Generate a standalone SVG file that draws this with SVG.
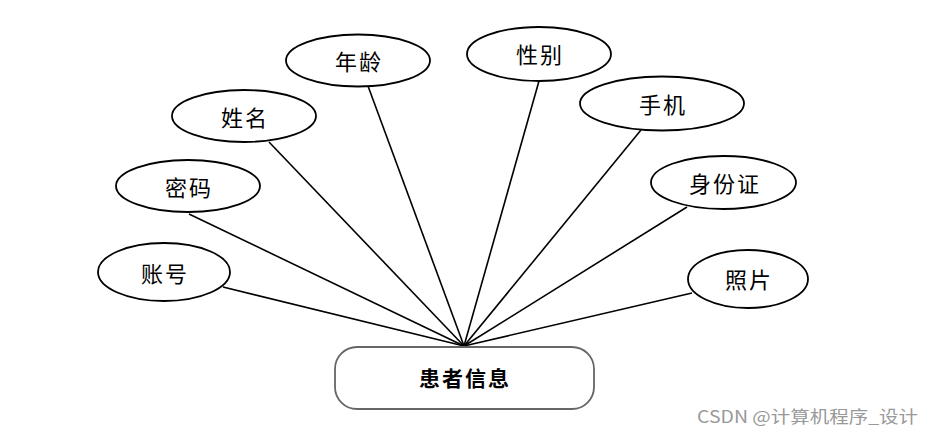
<svg xmlns="http://www.w3.org/2000/svg" width="933" height="436" viewBox="0 0 933 436">
<style>
.attr ellipse{fill:#fff;stroke:#000;stroke-width:1.8}
.attr text{font-family:"Noto Sans CJK SC",sans-serif;font-size:22px;fill:#000;text-anchor:middle;dominant-baseline:central;letter-spacing:2px}
#connectors line{stroke:#000;stroke-width:1.6}
.entity rect{fill:#fff;stroke:#666;stroke-width:1.8}
.entity text{font-family:"Noto Sans CJK SC",sans-serif;font-size:21px;font-weight:bold;fill:#000;text-anchor:middle;dominant-baseline:central;letter-spacing:2px}
.wm{font-family:"Noto Sans CJK SC",sans-serif;font-size:17px;fill:#999}
</style>
<rect width="933" height="436" fill="#fff"/>
<g id="connectors">
<line x1="223" y1="287" x2="464" y2="346"/>
<line x1="189" y1="214" x2="464" y2="346"/>
<line x1="269" y1="142" x2="464" y2="346"/>
<line x1="368" y1="86" x2="464" y2="346"/>
<line x1="539" y1="81" x2="464" y2="346"/>
<line x1="641" y1="130" x2="464" y2="346"/>
<line x1="687" y1="207" x2="464" y2="346"/>
<line x1="692" y1="293" x2="464" y2="346"/>
</g>
<g id="n-zhanghao" class="attr"><ellipse cx="164" cy="272" rx="66" ry="29"/><text x="165" y="272">账号</text></g>
<g id="n-mima" class="attr"><ellipse cx="188" cy="186" rx="72" ry="26"/><text x="189" y="186">密码</text></g>
<g id="n-xingming" class="attr"><ellipse cx="244" cy="116" rx="72" ry="26"/><text x="245" y="116">姓名</text></g>
<g id="n-nianling" class="attr"><ellipse cx="358" cy="60.5" rx="72" ry="26"/><text x="359" y="60">年龄</text></g>
<g id="n-xingbie" class="attr"><ellipse cx="539" cy="54" rx="72" ry="27"/><text x="540" y="53">性别</text></g>
<g id="n-shouji" class="attr"><ellipse cx="662" cy="103.5" rx="82" ry="27"/><text x="663" y="103">手机</text></g>
<g id="n-shenfenzheng" class="attr"><ellipse cx="723.5" cy="182.5" rx="72.5" ry="26.5"/><text x="725" y="182">身份证</text></g>
<g id="n-zhaopian" class="attr"><ellipse cx="748" cy="279" rx="60" ry="29"/><text x="749" y="278">照片</text></g>
<g id="n-huanzhe" class="entity"><rect x="335" y="347" width="259" height="62" rx="22"/><text x="465" y="377">患者信息</text></g>
<text class="wm" x="697" y="423" textLength="221" lengthAdjust="spacingAndGlyphs">CSDN @计算机程序_设计</text>
</svg>
